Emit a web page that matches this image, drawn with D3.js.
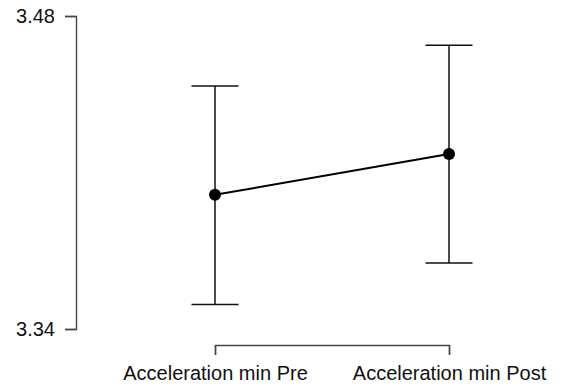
<!DOCTYPE html>
<html>
<head>
<meta charset="utf-8">
<script src="https://cdn.jsdelivr.net/npm/d3@7"></script>
<style>
  html, body { margin: 0; padding: 0; background: #fff; }
  svg { display: block; }
</style>
</head>
<body>
<svg id="chart" width="563" height="387"></svg>
<script>
const categories = ["Acceleration min Pre", "Acceleration min Post"];
const means = [3.4000, 3.4183];
const lower = [3.3510, 3.3695];
const upper = [3.4487, 3.4669];
const yTicks = [3.34, 3.48];

const svg = d3.select("#chart");
const font = "'Liberation Sans', Arial, Helvetica, sans-serif";

const x = d3.scalePoint().domain(categories).range([215, 449]);
const y = d3.scaleLinear().domain([3.34, 3.48]).range([329, 16]);

// Y axis
const yAxis = svg.append("g")
  .attr("transform", "translate(76,0)")
  .call(d3.axisLeft(y).tickValues(yTicks).tickFormat(d3.format(".2f")).tickSizeOuter(0).tickSize(11).tickPadding(10));
yAxis.select(".domain").attr("stroke", "#444").attr("stroke-width", 1.4);
yAxis.selectAll(".tick line").attr("stroke", "#444").attr("stroke-width", 1.4);
yAxis.selectAll(".tick text").attr("font-family", font).attr("font-size", 20).attr("fill", "#111");

// X axis
const xAxis = svg.append("g")
  .attr("transform", "translate(0,345)")
  .call(d3.axisBottom(x).tickSizeOuter(0).tickSize(10).tickPadding(11));
xAxis.select(".domain").attr("stroke", "#444").attr("stroke-width", 1.4);
xAxis.selectAll(".tick line").attr("stroke", "#444").attr("stroke-width", 1.4);
xAxis.selectAll(".tick text").attr("font-family", font).attr("font-size", 20).attr("fill", "#111");

const data = categories.map((c, i) => ({c, m: means[i], lo: lower[i], hi: upper[i]}));
const capW = 23.5;

const g = svg.append("g");
// error bars
g.selectAll("line.v").data(data).join("line")
  .attr("x1", d => x(d.c)).attr("x2", d => x(d.c))
  .attr("y1", d => y(d.lo)).attr("y2", d => y(d.hi))
  .attr("stroke", "#111").attr("stroke-width", 1.5);
g.selectAll("line.top").data(data).join("line")
  .attr("x1", d => x(d.c) - capW).attr("x2", d => x(d.c) + capW)
  .attr("y1", d => y(d.hi)).attr("y2", d => y(d.hi))
  .attr("stroke", "#111").attr("stroke-width", 1.5);
g.selectAll("line.bot").data(data).join("line")
  .attr("x1", d => x(d.c) - capW).attr("x2", d => x(d.c) + capW)
  .attr("y1", d => y(d.lo)).attr("y2", d => y(d.lo))
  .attr("stroke", "#111").attr("stroke-width", 1.5);

// connecting line
g.append("path").datum(data)
  .attr("d", d3.line().x(d => x(d.c)).y(d => y(d.m)))
  .attr("fill", "none").attr("stroke", "#000").attr("stroke-width", 2);

// points
g.selectAll("circle").data(data).join("circle")
  .attr("cx", d => x(d.c)).attr("cy", d => y(d.m)).attr("r", 6)
  .attr("fill", "#000");
</script>
</body>
</html>
